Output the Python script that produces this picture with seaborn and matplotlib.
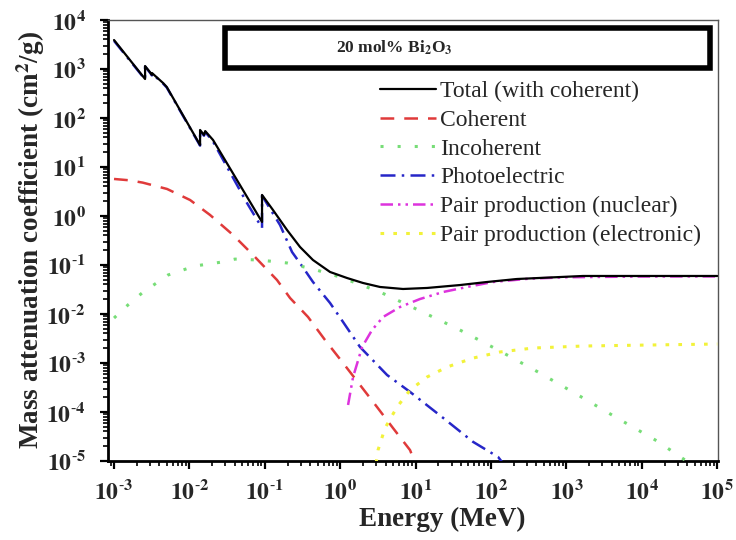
import numpy as np
import pandas as pd
import matplotlib
matplotlib.use("Agg")
import matplotlib.pyplot as plt
from matplotlib.patches import Rectangle
from matplotlib.ticker import FixedLocator, LogLocator, FuncFormatter, NullFormatter
import seaborn as sns

# ---- data (energy in MeV, mass attenuation coefficient in cm^2/g) ----
total_E = [1.0e-3, 2.58e-3, 2.58e-3, 3.0e-3, 3.18e-3, 3.18e-3, 4.47e-3, 5.0e-3,
           0.01384, 0.01384, 0.0156, 0.0162, 0.02056, 0.0918, 0.0918, 0.1285,
           0.197, 0.293, 0.435, 0.733, 1.23, 2.0, 3.37, 6.8, 14.2, 38.8, 88.5,
           221, 1660, 12900, 1.0e5]
total_mu = [3900, 625, 1150, 860, 760, 830, 518, 430,
            28.1, 57, 45, 54, 35.6, 0.755, 2.69, 1.32,
            0.518, 0.233, 0.1264, 0.072, 0.0543, 0.043, 0.0356, 0.0324, 0.034,
            0.039, 0.045, 0.0518, 0.0597, 0.0597, 0.0597]

coh_E = [1.0e-3, 1.6e-3, 2.4e-3, 5.05e-3, 0.0102, 0.01876, 0.0379, 0.0698,
         0.145, 0.216, 0.374, 0.628, 1.09, 1.83, 3.08, 5.01, 8.43, 9.25]
coh_mu = [5.7, 5.35, 4.8, 3.56, 2.12, 1.05, 0.41, 0.16,
          0.0494, 0.0212, 0.00869, 0.00295, 0.001, 3.56e-4, 1.26e-4, 4.7e-5,
          1.67e-5, 1.15e-5]

incoh_E = [1.0e-3, 1.53e-3, 2.35e-3, 5.2e-3, 0.01186, 0.027, 0.0402, 0.0863,
           0.197, 0.435, 0.993, 3.37, 10.8, 36.5, 124, 420, 1425, 4690,
           15900, 41000]
incoh_mu = [0.00828, 0.0153, 0.0268, 0.0625, 0.0955, 0.115, 0.132, 0.126,
            0.11, 0.0828, 0.0569, 0.0281, 0.0121, 0.00494, 0.00184, 6.55e-4,
            2.22e-4, 7.55e-5, 2.56e-5, 9.5e-6]

photo_E = [1.0e-3, 2.58e-3, 2.58e-3, 3.0e-3, 3.18e-3, 3.18e-3, 4.47e-3, 5.0e-3,
           0.01384, 0.01384, 0.0156, 0.0162, 0.02056, 0.058, 0.0918, 0.0918,
           0.159, 0.2296, 0.311, 0.435, 0.733, 1.09, 1.83, 4.18, 8.43, 23.1,
           57.7, 124, 140]
photo_mu = [3750, 612, 1120, 840, 740, 810, 505, 420,
            27.3, 55, 43.5, 52, 33.0, 1.84, 0.57, 2.6,
            0.655, 0.184, 0.0955, 0.045, 0.01676, 0.00687, 0.00212, 5.69e-4,
            2.57e-4, 7.6e-5, 2.46e-5, 1.21e-5, 9.5e-6]

pn_E = [1.27, 1.48, 1.95, 2.64, 3.70, 6.21, 11.4, 23.1, 48.1, 106, 316,
        1000, 1.0e4, 1.0e5]
pn_mu = [1.39e-4, 5.18e-4, 0.00212, 0.00471, 0.00869, 0.0139, 0.0202, 0.0281,
         0.0356, 0.045, 0.0525, 0.0562, 0.0582, 0.0585]

pe_E = [2.99, 3.17, 3.93, 5.66, 8.43, 14.2, 26.1, 57.7, 132, 361, 1660,
        12900, 1.0e5]
pe_mu = [9.1e-6, 1.67e-5, 4.71e-5, 1.26e-4, 2.81e-4, 5.18e-4, 8.28e-4,
         0.00126, 0.00168, 0.00202, 0.00222, 0.00233, 0.00244]

labels = ["Total (with coherent)", "Coherent", "Incoherent", "Photoelectric",
          "Pair production (nuclear)", "Pair production (electronic)"]
x_ticks = [1e-3, 1e-2, 1e-1, 1e0, 1e1, 1e2, 1e3, 1e4, 1e5]
y_ticks = [1e-5, 1e-4, 1e-3, 1e-2, 1e-1, 1e0, 1e1, 1e2, 1e3, 1e4]

# ---- style ----
sns.set_theme(style="ticks")
plt.rcParams["font.family"] = ["Liberation Serif", "DejaVu Serif"]
plt.rcParams["mathtext.fontset"] = "stix"

fig = plt.figure(figsize=(7.36, 5.4), dpi=100)
ax = fig.add_axes([108 / 736, 1 - 461 / 540, 610 / 736, 441 / 540])

series = [
    (total_E, total_mu, "black", "-", 1.6),
    (coh_E, coh_mu, "#e03a3a", (0, (5.5, 4)), 1.8),
    (incoh_E, incoh_mu, "#77dd77", (0, (1.0, 4.6)), 2.2),
    (photo_E, photo_mu, "#2626c8", (0, (6, 2.5, 1, 2.5)), 1.8),
    (pn_E, pn_mu, "#dd33dd", (0, (5, 2, 1, 2, 1, 2)), 1.8),
    (pe_E, pe_mu, "#f2f23a", (0, (1.2, 3.0)), 2.2),
]
order = [3, 1, 2, 4, 5, 0]
for i in order:
    E, mu, c, ls, lw = series[i]
    df = pd.DataFrame({"E": E, "mu": mu})
    sns.lineplot(data=df, x="E", y="mu", ax=ax, color=c, linestyle=ls,
                 linewidth=lw, estimator=None, sort=False, label=labels[i],
                 zorder=5 if i == 0 else 3)

ax.set_xscale("log")
ax.set_yscale("log")
ax.set_xlim(10 ** -3.08, 10 ** 5.01)
ax.set_ylim(1e-5, 1e4)

def fmt(v, pos):
    e = int(round(np.log10(v)))
    if e < 0:
        return r"$\mathbf{10}^{\text{-}\mathbf{%d}}$" % (-e)
    return r"$\mathbf{10}^{\mathbf{%d}}$" % e

ax.xaxis.set_major_locator(FixedLocator(x_ticks))
ax.yaxis.set_major_locator(FixedLocator(y_ticks))
ax.xaxis.set_major_formatter(FuncFormatter(fmt))
ax.yaxis.set_major_formatter(FuncFormatter(fmt))
ax.xaxis.set_minor_locator(LogLocator(base=10, subs=np.arange(2, 10), numticks=30))
ax.yaxis.set_minor_locator(LogLocator(base=10, subs=np.arange(2, 10), numticks=30))
ax.xaxis.set_minor_formatter(NullFormatter())
ax.yaxis.set_minor_formatter(NullFormatter())
ax.tick_params(axis="both", which="major", direction="out", length=6, width=1.6,
               labelsize=17, color="black")
ax.tick_params(axis="y", which="major", pad=10)
ax.tick_params(axis="x", which="major", pad=8)
ax.tick_params(axis="both", which="minor", direction="out", length=3.5, width=1.2,
               color="black")

for side in ["left", "bottom"]:
    ax.spines[side].set_linewidth(2.0)
    ax.spines[side].set_color("black")
for side in ["top", "right"]:
    ax.spines[side].set_visible(True)
    ax.spines[side].set_linewidth(1.0)
    ax.spines[side].set_color("#555555")

ax.set_xlabel("Energy (MeV)", fontsize=19.5, fontweight="bold")
ax.set_ylabel(r"Mass attenuation coefficient (cm$^{\mathbf{2}}$/g)",
              fontsize=19.5, fontweight="bold")
ax.xaxis.set_label_coords(0.548, -0.105)
ax.yaxis.set_label_coords(-0.1, 0.5)

# title box
ax.add_patch(Rectangle((0.192, 0.891), 0.795, 0.091, transform=ax.transAxes,
                       fill=False, edgecolor="black", linewidth=4, zorder=6))
ax.text(0.374, 0.938, r"20 mol% Bi$_{\mathbf{2}}$O$_{\mathbf{3}}$",
        transform=ax.transAxes, ha="left", va="center", fontsize=12.5,
        fontweight="bold", zorder=7)

h, l = ax.get_legend_handles_labels()
hmap = dict(zip(l, h))
leg = ax.legend([hmap[k] for k in labels], labels, loc="upper left",
                bbox_to_anchor=(0.446, 0.863), frameon=False, fontsize=17,
                handlelength=2.35, handletextpad=0.2, labelspacing=0.31,
                borderaxespad=0, borderpad=0)

fig.savefig("out.png", dpi=100)
